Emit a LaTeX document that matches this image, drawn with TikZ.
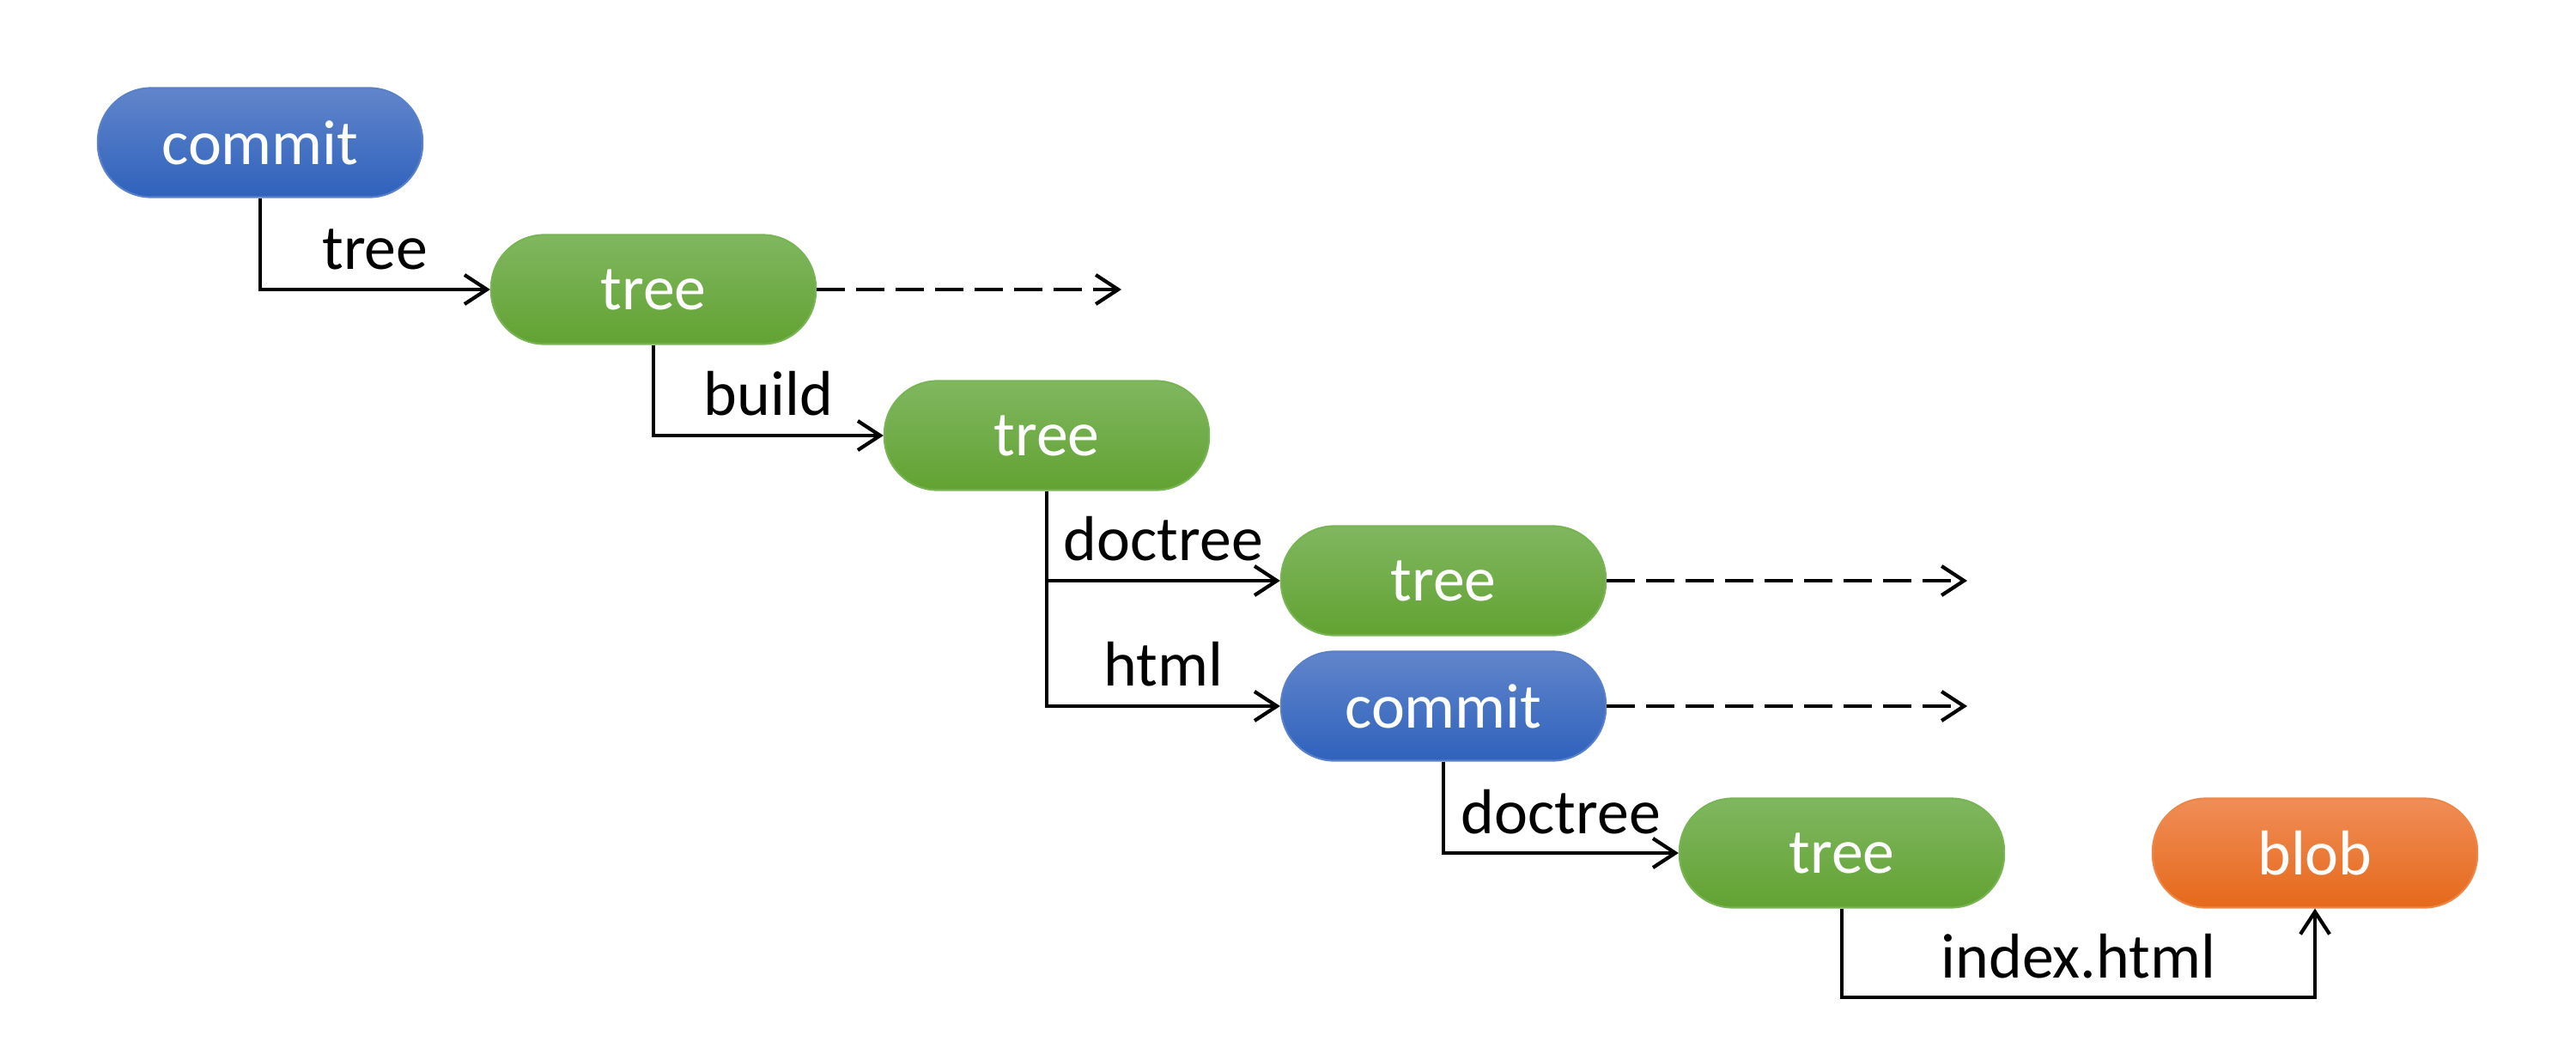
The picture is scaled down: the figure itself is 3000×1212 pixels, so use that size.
\documentclass[tikz,border=0pt]{standalone}
\usepackage{fontspec}
\setmainfont{Carlito}
\usetikzlibrary{arrows.meta}
\definecolor{bluetop}{HTML}{6185CB}
\definecolor{bluebot}{HTML}{2F62BC}
\definecolor{blueline}{HTML}{5A80C9}
\definecolor{greentop}{HTML}{80B760}
\definecolor{greenbot}{HTML}{62A232}
\definecolor{greenline}{HTML}{78B354}
\definecolor{orangetop}{HTML}{F08D57}
\definecolor{orangebot}{HTML}{E5691A}
\definecolor{orangeline}{HTML}{EE8648}
\begin{document}
\begin{tikzpicture}[x=0.01cm,y=-0.01cm,
  obj/.style={rounded corners=0.62cm, minimum width=3.78cm, minimum height=1.27cm,
    text=white, font=\fontsize{21}{25}\selectfont, line width=0.6pt, inner sep=0pt},
  commitbox/.style={obj, top color=bluetop, bottom color=bluebot, draw=blueline},
  treebox/.style={obj, top color=greentop, bottom color=greenbot, draw=greenline},
  blobbox/.style={obj, top color=orangetop, bottom color=orangebot, draw=orangeline},
  conn/.style={line width=0.042cm, -{Straight Barb[length=0.26cm, width=0.34cm, line width=0.042cm]}},
  dconn/.style={conn, dash pattern=on 0.33cm off 0.13cm},
  lbl/.style={font=\fontsize{21}{25}\selectfont, anchor=base, yshift=0.23cm, inner sep=0pt}
]
\useasboundingbox (0,0) rectangle (3000,1212);
\node[commitbox] (c1) at (303,166) {commit};
\node[treebox] (t1) at (761,337) {tree};
\node[treebox] (t2) at (1219,507) {tree};
\node[treebox] (t3) at (1681,676) {tree};
\node[commitbox] (c2) at (1681,822) {commit};
\node[treebox] (t4) at (2145,993) {tree};
\node[blobbox] (b) at (2696,993) {blob};
\coordinate (d1) at (1306,337);
\coordinate (d3) at (2291,676);
\coordinate (d4) at (2291,822);
\coordinate (low) at (2420,1161);
\draw[conn] (c1) |- (t1) node[lbl, pos=0.75] {tree};
\draw[conn] (t1) |- (t2) node[lbl, pos=0.75] {build};
\draw[conn] (t2) |- (t3) node[lbl, pos=0.75] {doctree};
\draw[conn] (t2) |- (c2) node[lbl, pos=0.75] {html};
\draw[conn] (c2) |- (t4) node[lbl, pos=0.75] {doctree};
\draw[conn] (t4) -- (t4 |- low) -| (b) node[lbl, pos=0.25] {index.html};
\draw[dconn] (t1) -- (d1);
\draw[dconn] (t3) -- (d3);
\draw[dconn] (c2) -- (d4);
\end{tikzpicture}
\end{document}
